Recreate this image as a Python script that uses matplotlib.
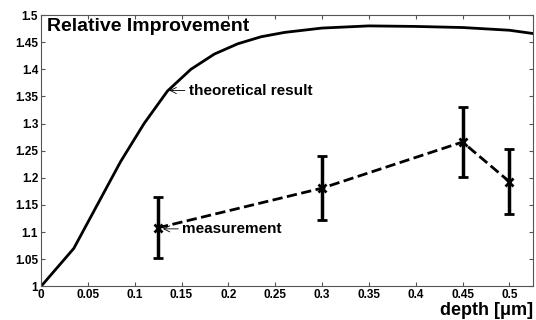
import matplotlib
matplotlib.use("Agg")
import matplotlib.pyplot as plt

plt.rcParams['font.family'] = ['Liberation Sans', 'DejaVu Sans']

# theoretical curve
theo_x = [0.0, 0.035, 0.06, 0.085, 0.11, 0.135, 0.16, 0.185, 0.21, 0.235, 0.26,
          0.3, 0.35, 0.4, 0.45, 0.5, 0.525]
theo_y = [1.0, 1.07, 1.15, 1.23, 1.30, 1.36, 1.40, 1.428, 1.447, 1.46, 1.468,
          1.476, 1.48, 1.479, 1.477, 1.472, 1.466]

# measurements
meas_x = [0.125, 0.3, 0.45, 0.5]
meas_y = [1.108, 1.181, 1.266, 1.193]
meas_err = [0.056, 0.059, 0.064, 0.06]

fig = plt.figure(figsize=(5.36, 3.2), dpi=100)
ax = fig.add_axes([0.0765, 0.105, 0.9175, 0.848])

ax.plot(theo_x, theo_y, color='k', lw=2)
ax.errorbar(meas_x, meas_y, yerr=meas_err, color='k', lw=2, ls='--',
            marker='x', markersize=6, mew=2, elinewidth=2.5, capsize=3.5, capthick=2)

ax.set_xlim(0, 0.525)
ax.set_ylim(1, 1.5)
ax.set_xticks([0, 0.05, 0.1, 0.15, 0.2, 0.25, 0.3, 0.35, 0.4, 0.45, 0.5])
ax.set_xticklabels(['0', '0.05', '0.1', '0.15', '0.2', '0.25', '0.3', '0.35', '0.4', '0.45', '0.5'])
ax.set_yticks([1, 1.05, 1.1, 1.15, 1.2, 1.25, 1.3, 1.35, 1.4, 1.45, 1.5])
ax.set_yticklabels(['1', '1.05', '1.1', '1.15', '1.2', '1.25', '1.3', '1.35', '1.4', '1.45', '1.5'])
ax.tick_params(direction='in', top=True, right=True, length=3, width=0.8,
               labelsize=8.5, pad=2, color='#555555')
for lab in ax.get_xticklabels() + ax.get_yticklabels():
    lab.set_fontweight('bold')
for s in ax.spines.values():
    s.set_color('#555555')

ax.text(0.006, 1.494, 'Relative Improvement', fontsize=14, fontweight='bold',
        va='top', ha='left')
ax.set_xlabel('depth [μm]', fontsize=13, fontweight='bold', ha='right', va='bottom')
ax.xaxis.set_label_coords(1.0, -0.12)

ax.annotate('theoretical result', xy=(0.137, 1.361), xytext=(0.158, 1.36),
            fontsize=11, fontweight='bold', va='center',
            arrowprops=dict(arrowstyle='->', color='k', lw=0.6, shrinkA=1, shrinkB=0))
ax.annotate('measurement', xy=(0.13, 1.106), xytext=(0.151, 1.106),
            fontsize=11, fontweight='bold', va='center',
            arrowprops=dict(arrowstyle='->', color='k', lw=0.6, shrinkA=1, shrinkB=0))

fig.savefig('out.png', dpi=100)
